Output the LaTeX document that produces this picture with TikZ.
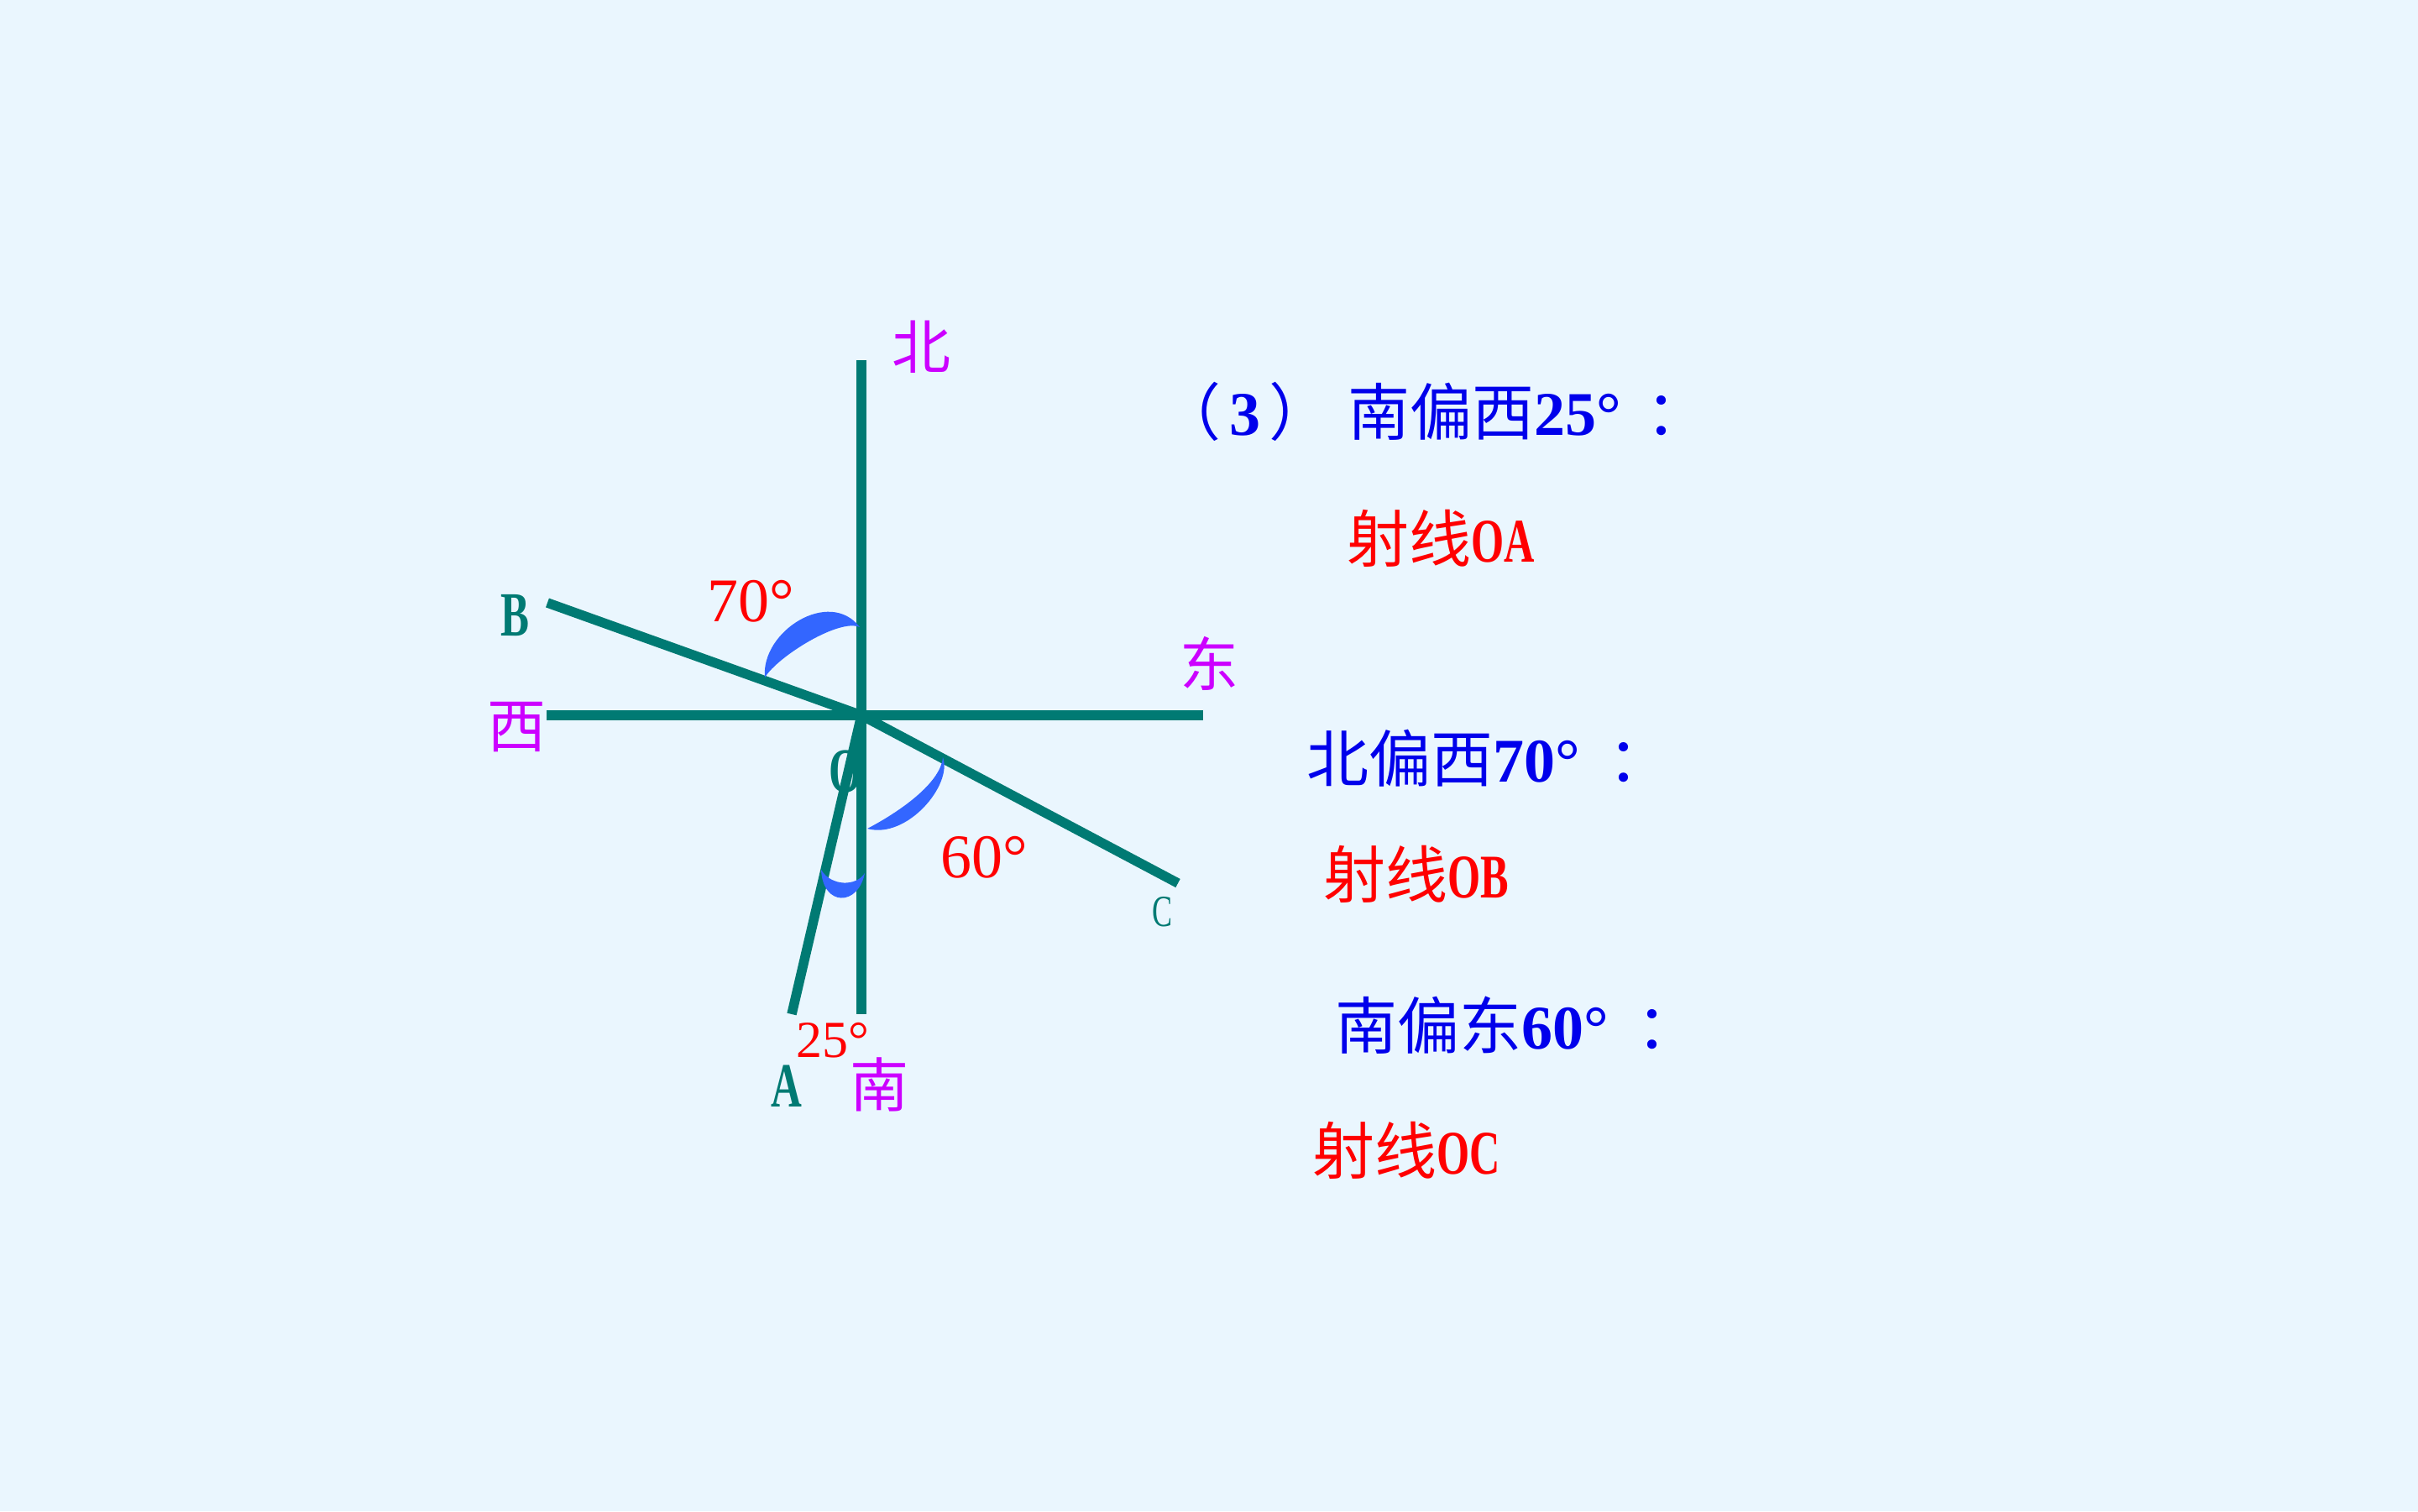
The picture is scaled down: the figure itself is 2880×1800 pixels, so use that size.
\documentclass[tikz,border=0pt]{standalone}
\usepackage{fontspec}
\setmainfont{Liberation Serif}
\newfontfamily\cjk{Noto Sans CJK SC}
\newfontfamily\narrowlatin[FakeStretch=0.68]{Liberation Serif}
\newcommand{\zhs}[1]{{\cjk\mdseries #1}}
\definecolor{bgblue}{RGB}{234,246,254}
\definecolor{rayteal}{RGB}{0,122,115}
\definecolor{dirpurple}{RGB}{204,0,255}
\definecolor{arcblue}{RGB}{51,102,255}
\definecolor{txtblue}{RGB}{0,0,235}
\definecolor{txtred}{RGB}{255,0,0}
\tikzset{
  ray/.style={draw=rayteal, line width=11.5pt},
  wedge/.style={fill=arcblue},
  dirlabel/.style={text=dirpurple, inner sep=0pt, font=\cjk\fontsize{70}{70}\selectfont},
  ptlabel/.style={text=rayteal, inner sep=0pt, anchor=base west, font=\narrowlatin\bfseries\fontsize{75}{75}\selectfont},
  anglabel/.style={text=txtred, inner sep=0pt, anchor=base west, font=\fontsize{74}{74}\selectfont},
  ask/.style={text=txtblue, inner sep=0pt, anchor=base west, font=\bfseries\fontsize{74}{74}\selectfont},
  answer/.style={text=txtred, inner sep=0pt, anchor=base west, font=\bfseries\fontsize{74}{74}\selectfont}
}
\begin{document}
\begin{tikzpicture}[x=1pt, y=-1pt]
        \fill[bgblue] (0,0) rectangle (2880,1800);
        \useasboundingbox (0,0) rectangle (2880,1800);
        % the four directions and the three rays
        \coordinate (O) at (1026,852);
        \coordinate (N) at (1026,429);
        \coordinate (S) at (1026,1208);
        \coordinate (W) at (651,852);
        \coordinate (E) at (1433,852);
        \coordinate (B) at (652,718);
        \coordinate (A) at (943,1208);
        \coordinate (C) at (1403,1052);
        \draw[ray] (N) -- (S);
        \draw[ray] (W) -- (E);
        \draw[ray] (O) -- (B);
        \draw[ray] (O) -- (A);
        \draw[ray] (O) -- (C);
        % angle marks
        \fill[wedge] (911,807) .. controls (906,752) and (988,700) .. (1024,747)
                     .. controls (1000,736) and (926,782) .. (911,807) -- cycle;
        \fill[wedge] (1123,902) .. controls (1135,935) and (1080,1000) .. (1033,987)
                     .. controls (1062,972) and (1120,936) .. (1123,902) -- cycle;
        \fill[wedge] (978,1036) .. controls (980,1080) and (1022,1080) .. (1030,1040)
                     .. controls (1020,1056) and (990,1056) .. (978,1036) -- cycle;
        % direction names
        \node[dirlabel] (north) at (1097,413) {北};
        \node[dirlabel] (west) at (615,866) {西};
        \node[dirlabel] (east) at (1440,790) {东};
        \node[dirlabel] (south) at (1047,1292) {南};
        % points
        \node[ptlabel] (lblB) at (596,757) {B};
        \node[ptlabel] (lblA) at (918,1318) {A};
        \node[ptlabel] (lblO) at (987,943) {O};
        \node[ptlabel, font=\narrowlatin\fontsize{53}{53}\selectfont] (lblC) at (1372,1103) {C};
        % angles
        \node[anglabel] (ang70) at (842,740) {70°};
        \node[anglabel] (ang60) at (1120,1045) {60°};
        \node[anglabel, font=\fontsize{62}{62}\selectfont] (ang25) at (948,1259) {25°};
        % answers
        \node[ask] (q1) at (1380,518) {\zhs{（}\hspace{10pt}3\hspace{10pt}\zhs{）}\hspace{20pt}\zhs{南偏西}25°\hspace{30pt}\zhs{：}};
        \node[answer] (r1) at (1604,669) {\zhs{射线}{\narrowlatin OA}};
        \node[ask] (q2) at (1556,931) {\zhs{北偏西}70°\hspace{34pt}\zhs{：}};
        \node[answer] (r2) at (1576,1069) {\zhs{射线}{\narrowlatin OB}};
        \node[ask] (q3) at (1590,1249) {\zhs{南偏东}60°\hspace{34pt}\zhs{：}};
        \node[answer] (r3) at (1563,1398) {\zhs{射线}{\narrowlatin OC}};
\end{tikzpicture}
\end{document}
